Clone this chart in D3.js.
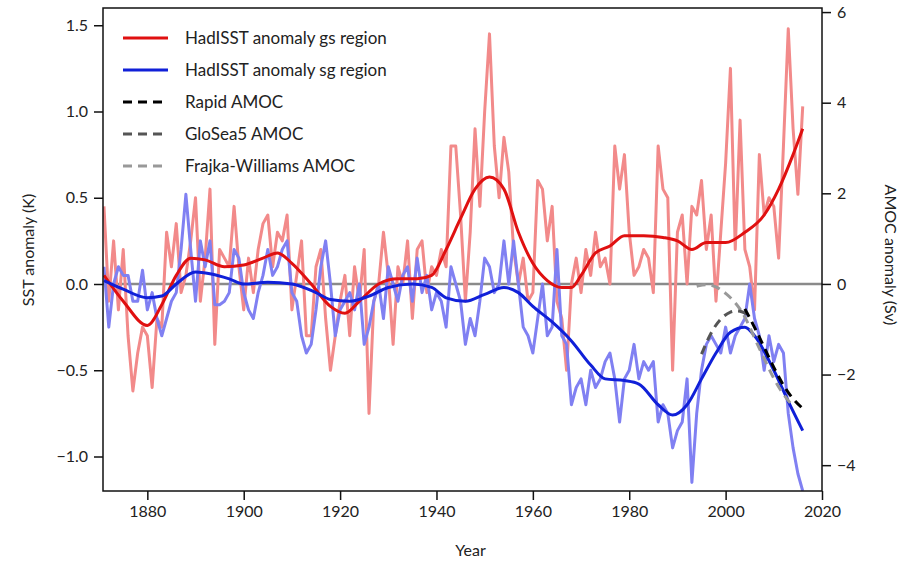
<!DOCTYPE html>
<html><head><meta charset="utf-8">
<script src="https://cdn.jsdelivr.net/npm/d3@7"></script>
<style>body{margin:0;background:#fff}svg{font-family:Lato,"Open Sans",sans-serif}</style>
</head><body><svg id="c" width="904" height="564"></svg>
<script>
const years = d3.range(1871, 2017);
const gsRaw = [0.45,-0.1,0.25,-0.15,0.2,-0.3,-0.62,-0.4,-0.25,-0.3,-0.6,-0.2,-0.25,0.3,0.1,0.35,-0.05,0.05,0.25,0.5,-0.1,0.15,0.55,-0.35,0.2,0.15,0.1,0.45,0.1,-0.15,0.15,-0.05,0.2,0.35,0.4,0.1,0.3,0.25,0.4,-0.15,0.05,0.25,-0.3,-0.3,0.1,0.2,-0.2,-0.5,-0.3,-0.1,0.05,-0.3,0.1,-0.1,0.2,-0.75,-0.1,0.0,0.3,0.05,-0.35,0.1,0.0,0.25,-0.2,0.2,0.25,-0.05,0.1,0.05,0.2,0.1,0.8,0.8,0.4,-0.1,0.3,0.9,0.45,1.0,1.45,0.8,0.5,0.85,0.65,0.2,0.0,0.15,-0.1,-0.05,0.6,0.55,0.25,0.45,-0.1,-0.2,-0.5,0.0,0.15,-0.05,0.2,0.05,0.3,0.1,0.15,0.0,0.8,0.55,0.75,0.3,0.05,0.1,0.2,0.15,-0.05,0.8,0.55,0.5,-0.5,0.3,0.4,0.0,0.45,0.4,0.6,0.2,0.4,-0.1,0.3,0.7,1.25,0.2,0.95,0.2,0.1,-0.15,0.75,0.4,0.5,0.45,0.15,0.8,1.48,0.9,0.52,1.03];
const sgRaw = [0.1,-0.25,0.0,0.1,0.05,0.05,-0.1,-0.1,0.08,-0.15,-0.05,-0.2,-0.3,-0.2,-0.1,-0.05,0.2,0.52,0.2,-0.1,0.25,0.1,0.25,-0.12,-0.12,-0.1,-0.05,0.2,0.15,-0.05,-0.15,-0.2,-0.05,0.05,0.2,0.05,0.1,0.2,0.25,-0.05,-0.1,-0.3,-0.4,-0.35,-0.15,0.1,0.25,0.0,-0.3,-0.15,-0.1,-0.05,-0.15,0.0,-0.35,-0.25,-0.1,0.0,-0.2,0.1,0.0,-0.1,0.05,0.1,-0.1,0.15,-0.05,0.05,-0.15,-0.05,-0.1,-0.25,0.1,0.0,-0.1,-0.35,-0.2,-0.3,-0.1,0.15,0.1,-0.05,0.0,0.25,0.0,0.25,0.0,-0.25,-0.3,-0.4,-0.2,0.0,-0.3,-0.25,0.2,-0.3,-0.35,-0.7,-0.6,-0.55,-0.7,-0.5,-0.6,-0.55,-0.45,-0.4,-0.55,-0.8,-0.55,-0.5,-0.35,-0.55,-0.45,-0.5,-0.45,-0.8,-0.7,-0.75,-0.95,-0.85,-0.8,-0.55,-1.15,-0.75,-0.5,-0.35,-0.3,-0.35,-0.4,-0.25,-0.4,-0.3,-0.25,-0.2,0.0,-0.2,-0.3,-0.5,-0.3,-0.45,-0.35,-0.4,-0.75,-0.95,-1.1,-1.2];
const gsSmoothYears = [1871,1875,1880,1883,1886,1889,1892,1896,1900,1904,1907,1910,1914,1918,1921,1924,1928,1932,1936,1939,1942,1945,1948,1951,1954,1957,1960,1963,1966,1968,1970,1973,1976,1979,1983,1987,1990,1993,1996,2000,2004,2008,2011,2014,2016];
const gsSmooth = [0.05,-0.1,-0.24,-0.12,0.05,0.15,0.14,0.1,0.11,0.15,0.18,0.12,0.0,-0.13,-0.17,-0.1,0.0,0.03,0.03,0.05,0.2,0.38,0.55,0.62,0.55,0.3,0.12,0.02,-0.02,-0.02,0.05,0.18,0.22,0.28,0.28,0.27,0.25,0.2,0.24,0.24,0.3,0.4,0.55,0.75,0.9];
const sgSmoothYears = [1871,1875,1880,1883,1886,1890,1893,1897,1900,1905,1910,1915,1918,1922,1926,1930,1935,1939,1942,1946,1950,1954,1957,1960,1964,1968,1972,1975,1979,1982,1986,1989,1992,1995,1998,2001,2004,2006,2010,2013,2016];
const sgSmooth = [0.02,-0.03,-0.08,-0.07,0.0,0.07,0.06,0.03,0.0,0.01,0.0,-0.05,-0.09,-0.1,-0.07,-0.02,0.0,-0.02,-0.08,-0.1,-0.06,-0.02,-0.05,-0.13,-0.22,-0.33,-0.47,-0.55,-0.56,-0.58,-0.7,-0.76,-0.7,-0.55,-0.4,-0.28,-0.25,-0.3,-0.5,-0.68,-0.85];
const rapidYears = [2004,2006,2008,2010,2012,2014,2016];
const rapidAmoc = [-0.55,-0.95,-1.4,-1.85,-2.25,-2.55,-2.75];
const glosYears = [1995,1997,1999,2001,2003,2005];
const glosAmoc = [-1.55,-1.05,-0.75,-0.6,-0.58,-0.7];
const fwYears = [1994,1996,1998,2000,2002,2004,2006,2008,2010,2012,2014];
const fwAmoc = [-0.05,0.0,-0.05,-0.2,-0.4,-0.7,-1.2,-1.65,-2.1,-2.45,-2.7];
const xTicks = [1880,1900,1920,1940,1960,1980,2000,2020];
const yTicks = [-1.0,-0.5,0.0,0.5,1.0,1.5];
const y2Ticks = [-4,-2,0,2,4,6];
const legendLabels = ["HadISST anomaly gs region","HadISST anomaly sg region","Rapid AMOC","GloSea5 AMOC","Frajka-Williams AMOC"];

const L=103,R=822,T=8,B=491;
const svg=d3.select("#c");
const x=d3.scaleLinear().domain([1870.8,2020]).range([L,R]);
const y=d3.scaleLinear().domain([-1.2,1.6]).range([B,T]);
const y2=d3.scaleLinear().domain([-4.57,6.09]).range([B,T]);
const g=svg.append("g");
g.append("defs").append("clipPath").attr("id","cp").append("rect").attr("x",L).attr("y",T).attr("width",R-L).attr("height",B-T);
const p=g.append("g").attr("clip-path","url(#cp)");
p.append("line").attr("x1",L).attr("x2",R).attr("y1",y(0)).attr("y2",y(0)).attr("stroke","#8a8a8a").attr("stroke-width",2.5);
const ln=(ys,sc)=>d3.line().x((d,i)=>x(ys[i])).y(d=>sc(d));
p.append("path").datum(gsRaw).attr("d",ln(years,y)).attr("fill","none").attr("stroke","#f28a8a").attr("stroke-width",3).attr("stroke-linejoin","round");
p.append("path").datum(sgRaw).attr("d",ln(years,y)).attr("fill","none").attr("stroke","#8080f2").attr("stroke-width",3).attr("stroke-linejoin","round");
const sm=(ys,sc)=>d3.line().x((d,i)=>x(ys[i])).y(d=>sc(d)).curve(d3.curveMonotoneX);
p.append("path").datum(gsSmooth).attr("d",sm(gsSmoothYears,y)).attr("fill","none").attr("stroke","#e01010").attr("stroke-width",3);
p.append("path").datum(sgSmooth).attr("d",sm(sgSmoothYears,y)).attr("fill","none").attr("stroke","#1020d8").attr("stroke-width",3);
const cr=(ys,sc)=>d3.line().x((d,i)=>x(ys[i])).y(d=>sc(d)).curve(d3.curveBasis);
p.append("path").datum(fwAmoc).attr("d",cr(fwYears,y2)).attr("fill","none").attr("stroke","#999").attr("stroke-width",3).attr("stroke-dasharray","9,6");
p.append("path").datum(glosAmoc).attr("d",cr(glosYears,y2)).attr("fill","none").attr("stroke","#555").attr("stroke-width",3).attr("stroke-dasharray","9,6");
p.append("path").datum(rapidAmoc).attr("d",cr(rapidYears,y2)).attr("fill","none").attr("stroke","#000").attr("stroke-width",3).attr("stroke-dasharray","9,6");

g.append("rect").attr("x",L).attr("y",T).attr("width",R-L).attr("height",B-T).attr("fill","none").attr("stroke","#111").attr("stroke-width",1.5);
const st=s=>{s.select(".domain").remove();s.selectAll("line").attr("stroke","#111").attr("stroke-width",1.5);s.selectAll("text").attr("font-size",16).attr("fill","#222").attr("font-family","Lato,sans-serif");};
g.append("g").attr("transform",`translate(0,${B})`).call(d3.axisBottom(x).tickValues(xTicks).tickFormat(d3.format("d")).tickSize(9).tickPadding(6)).call(st);
g.append("g").attr("transform",`translate(${L},0)`).call(d3.axisLeft(y).tickValues(yTicks).tickFormat(d=>d3.format(".1f")(d).replace("-","\u2212")).tickSize(9).tickPadding(6)).call(st);
g.append("g").attr("transform",`translate(${R},0)`).call(d3.axisRight(y2).tickValues(y2Ticks).tickFormat(d=>String(d).replace("-","\u2212")).tickSize(9).tickPadding(6)).call(st);
g.append("text").attr("x",(L+R)/2+8).attr("y",556).attr("text-anchor","middle").attr("font-size",16).attr("fill","#222").text("Year");
g.append("text").attr("transform","translate(34,250) rotate(-90)").attr("text-anchor","middle").attr("font-size",16).attr("fill","#222").text("SST anomaly (K)");
g.append("text").attr("transform","translate(885,255) rotate(90)").attr("text-anchor","middle").attr("font-size",16).attr("fill","#222").text("AMOC anomaly (Sv)");
const ls=[{c:"#e01010",d:null},{c:"#1020d8",d:null},{c:"#000",d:"9,6"},{c:"#555",d:"9,6"},{c:"#999",d:"9,6"}];
legendLabels.forEach((t,i)=>{const yy=38+i*32;
 g.append("line").attr("x1",123).attr("x2",168).attr("y1",yy).attr("y2",yy).attr("stroke",ls[i].c).attr("stroke-width",3).attr("stroke-dasharray",ls[i].d);
 g.append("text").attr("x",185).attr("y",yy+6).attr("font-size",17).attr("fill","#222").text(t);});
</script></body></html>
